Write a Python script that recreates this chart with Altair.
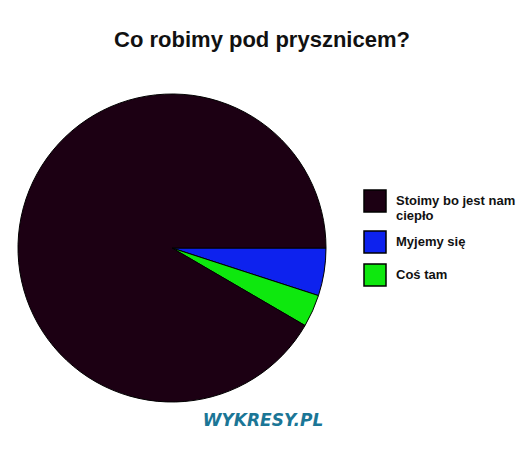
import altair as alt
import pandas as pd

categories = ["Myjemy się", "Coś tam", "Stoimy bo jest nam ciepło"]
values = [5, 3.4, 91.6]
slice_order = [0, 1, 2]
legend_order = ["Stoimy bo jest nam ciepło", "Myjemy się", "Coś tam"]
colors = ["#1c0013", "#0d22ee", "#0ee80e"]

df = pd.DataFrame({"kategoria": categories, "wartosc": values, "kolejnosc": slice_order})

PI = 3.141592653589793

pie = alt.Chart(df).mark_arc(stroke="black", strokeWidth=1, radius=154).encode(
    theta=alt.Theta("wartosc:Q", stack=True, scale=alt.Scale(range=[PI / 2, PI / 2 + 2 * PI])),
    order=alt.Order("kolejnosc:Q"),
    color=alt.Color(
        "kategoria:N",
        scale=alt.Scale(domain=legend_order, range=colors),
        legend=alt.Legend(
            title=None,
            orient="none",
            legendX=355,
            legendY=181,
            symbolType="square",
            symbolSize=484,
            symbolStrokeColor="black",
            symbolStrokeWidth=1.5,
            symbolFillColor="black",
            labelFont="Liberation Sans Narrow, Liberation Sans, Arial",
            labelFontWeight="bold",
            labelFontSize=13,
            labelColor="#111111",
            labelOffset=9,
            labelLimit=200,
            rowPadding=5,
            labelExpr="datum.label == 'Stoimy bo jest nam ciepło' ? ['Stoimy bo jest nam', 'ciepło'] : datum.label",
        ),
    ),
    x=alt.value(164),
    y=alt.value(240),
)

title = alt.Chart(pd.DataFrame({"t": ["Co robimy pod prysznicem?"]})).mark_text(
    font="Liberation Sans", fontWeight="bold", fontSize=22, color="#111111", baseline="alphabetic", align="center"
).encode(text="t:N", x=alt.value(254), y=alt.value(39))

mark = alt.Chart(pd.DataFrame({"t": ["WYKRESY.PL"]})).mark_text(
    font="DejaVu Sans", fontWeight="bold", fontStyle="italic", fontSize=17, color="#1b7696",
    baseline="alphabetic", align="center"
).encode(text="t:N", x=alt.value(255), y=alt.value(418))

chart = alt.layer(pie, title, mark).properties(
    width=510, height=433, autosize=alt.AutoSizeParams(type="none"), padding=0
).configure_view(stroke=None)

chart.save("out.html", embed_options={"renderer": "svg", "actions": False})
